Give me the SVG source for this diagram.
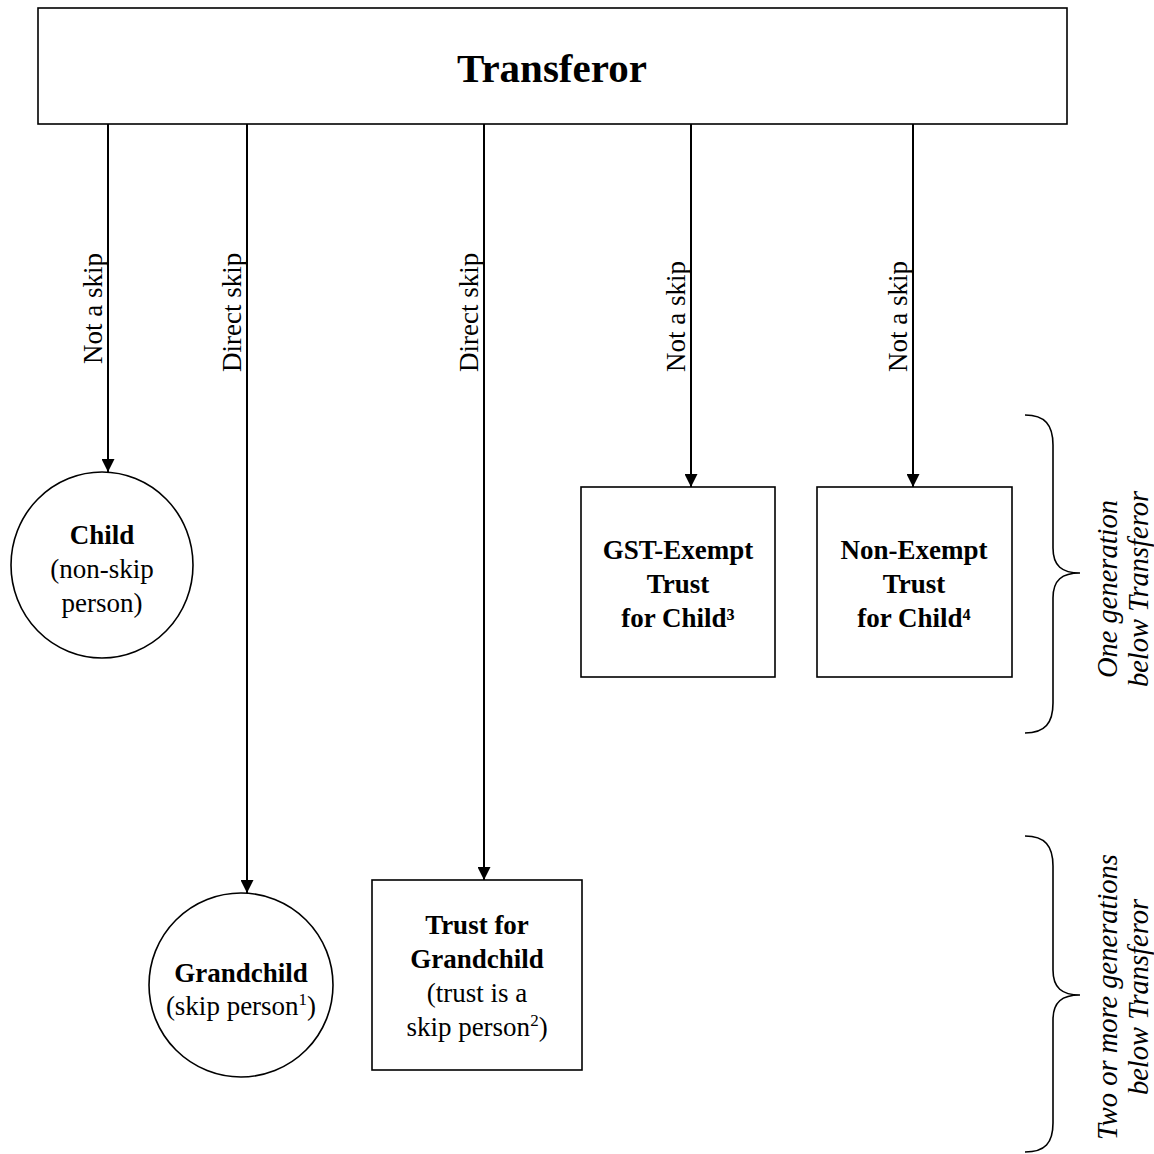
<svg xmlns="http://www.w3.org/2000/svg" width="1154" height="1154" viewBox="0 0 1154 1154">
<style>
.shape{fill:#fff;stroke:#000;stroke-width:1.6}
.conn{stroke:#000;stroke-width:2;fill:none}
.brace{stroke:#000;stroke-width:1.6;fill:none}
text{font-family:"Liberation Serif","Times New Roman",serif;fill:#000}
.t{font-size:27px;text-anchor:middle}
.b{font-weight:bold}
.lbl{font-size:27px}
.it{font-size:28.5px;font-style:italic;text-anchor:middle}
.title{font-size:41px;font-weight:bold;text-anchor:middle}
</style>
<defs>
<marker id="arr" viewBox="0 0 13 13" refX="13" refY="6.5" markerWidth="13" markerHeight="13" markerUnits="userSpaceOnUse" orient="auto">
<path d="M0,0 L13,6.5 L0,13 Z" fill="#000"/>
</marker>
</defs>
<rect width="1154" height="1154" fill="#fff"/>
<g id="transferor">
<rect class="shape" x="38" y="8" width="1029" height="116"/>
<text class="title" x="552" y="82">Transferor</text>
</g>
<g id="connectors">
<line class="conn" x1="108" y1="124" x2="108" y2="472" marker-end="url(#arr)"/>
<line class="conn" x1="247" y1="124" x2="247" y2="893" marker-end="url(#arr)"/>
<line class="conn" x1="484" y1="124" x2="484" y2="880" marker-end="url(#arr)"/>
<line class="conn" x1="691" y1="124" x2="691" y2="487" marker-end="url(#arr)"/>
<line class="conn" x1="913" y1="124" x2="913" y2="487" marker-end="url(#arr)"/>
<text class="lbl" transform="translate(102,364) rotate(-90)">Not a skip</text>
<text class="lbl" transform="translate(241,372) rotate(-90)">Direct skip</text>
<text class="lbl" transform="translate(478,372) rotate(-90)">Direct skip</text>
<text class="lbl" transform="translate(685,372) rotate(-90)">Not a skip</text>
<text class="lbl" transform="translate(907,372) rotate(-90)">Not a skip</text>
</g>
<g id="child">
<ellipse class="shape" cx="102" cy="565" rx="91" ry="93"/>
<text class="t b" x="102" y="544">Child</text>
<text class="t" x="102" y="578">(non-skip</text>
<text class="t" x="102" y="612">person)</text>
</g>
<g id="gst-exempt">
<rect class="shape" x="581" y="487" width="194" height="190"/>
<text class="t b" x="678" y="559">GST-Exempt</text>
<text class="t b" x="678" y="593">Trust</text>
<text class="t b" x="678" y="627">for Child³</text>
</g>
<g id="non-exempt">
<rect class="shape" x="817" y="487" width="195" height="190"/>
<text class="t b" x="914" y="559">Non-Exempt</text>
<text class="t b" x="914" y="593">Trust</text>
<text class="t b" x="914" y="627">for Child⁴</text>
</g>
<g id="grandchild">
<circle class="shape" cx="241" cy="985" r="92"/>
<text class="t b" x="241" y="982">Grandchild</text>
<text class="t" x="241" y="1015">(skip person<tspan font-size="17" dy="-10">1</tspan><tspan dy="10">)</tspan></text>
</g>
<g id="trust-grandchild">
<rect class="shape" x="372" y="880" width="210" height="190"/>
<text class="t b" x="477" y="934">Trust for</text>
<text class="t b" x="477" y="968">Grandchild</text>
<text class="t" x="477" y="1002">(trust is a</text>
<text class="t" x="477" y="1036">skip person<tspan font-size="17" dy="-10">2</tspan><tspan dy="10">)</tspan></text>
</g>
<g id="brace-one">
<path class="brace" d="M1025,415 C1045,415 1053,425 1053,445 L1053,548 C1053,566 1062,573 1080,573 C1062,573 1053,580 1053,598 L1053,703 C1053,723 1045,733 1025,733"/>
<text class="it" transform="translate(1117,589) rotate(-90)">One generation</text>
<text class="it" transform="translate(1148,589) rotate(-90)">below Transferor</text>
</g>
<g id="brace-two">
<path class="brace" d="M1025,836 C1045,836 1053,846 1053,866 L1053,970 C1053,988 1062,995 1080,995 C1062,995 1053,1002 1053,1020 L1053,1123 C1053,1143 1045,1152 1025,1152"/>
<text class="it" transform="translate(1117,997) rotate(-90)">Two or more generations</text>
<text class="it" transform="translate(1148,997) rotate(-90)">below Transferor</text>
</g>
</svg>
